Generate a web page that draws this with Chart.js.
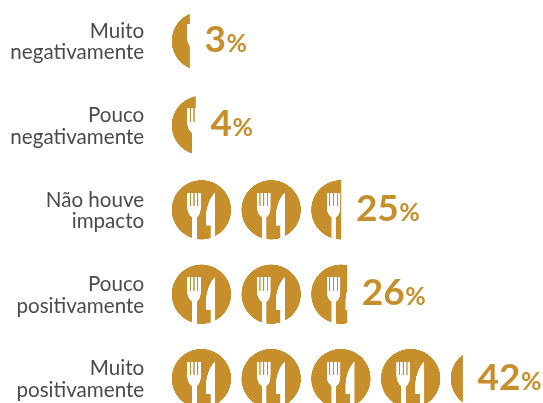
<!DOCTYPE html>
<html><head><meta charset="utf-8">
<style>html,body{margin:0;padding:0;background:#fff;overflow:hidden}canvas{display:block}</style>
<script src="https://cdn.jsdelivr.net/npm/chart.js@4/dist/chart.umd.js"></script>
</head><body><canvas id="c" width="543" height="403"></canvas>
<script>
const categories = [["Muito","negativamente"],["Pouco","negativamente"],["Não houve","impacto"],["Pouco","positivamente"],["Muito","positivamente"]];
const values = [3,4,25,26,42];

const GOLD='#c78f2c', TEXT='#4a4a4a';
const STEP=69.75, ICON=59.4, SS=4, TILE_H=68;

// Pictogram value axis: every icon stands for 10 units; the gaps between icons carry no value.
class IconScale extends Chart.LinearScale {
  static id='icon';
  static defaults={};
  getPixelForValue(v){
    const n=Math.floor(v/10), f=v/10-n;
    return this.left+n*STEP+f*ICON;
  }
}
Chart.register(IconScale);

function makeTile(){
  const t=document.createElement('canvas');
  t.width=Math.round(STEP*SS); t.height=TILE_H*SS;
  const g=t.getContext('2d'); g.scale(SS,SS);
  const cx=ICON/2, cy=TILE_H/2;
  g.fillStyle=GOLD; g.beginPath(); g.arc(cx,cy,ICON/2,0,Math.PI*2); g.fill();
  g.save();
  g.beginPath(); g.arc(cx,cy,ICON/2+0.5,0,Math.PI*2); g.clip();
  g.fillStyle='#fff';
  const ox=171.7, oy=210-cy;
  const X=x=>x-ox, Y=y=>y-oy;
  // fork: head with four tines
  g.beginPath();
  g.moveTo(X(187.2),Y(193)); g.lineTo(X(187.2),Y(207));
  g.bezierCurveTo(X(187.2),Y(213),X(190),Y(216),X(192),Y(217.5));
  g.lineTo(X(192),Y(241)); g.lineTo(X(196.7),Y(241)); g.lineTo(X(196.7),Y(217.5));
  g.bezierCurveTo(X(199),Y(216),X(200.8),Y(213),X(200.8),Y(207));
  g.lineTo(X(200.8),Y(193));
  g.lineTo(X(198.3),Y(193)); g.lineTo(X(198.3),Y(206.5)); g.lineTo(X(197.2),Y(206.5)); g.lineTo(X(197.2),Y(193));
  g.lineTo(X(194.6),Y(193)); g.lineTo(X(194.6),Y(206.5)); g.lineTo(X(193.4),Y(206.5)); g.lineTo(X(193.4),Y(193));
  g.lineTo(X(190.8),Y(193)); g.lineTo(X(190.8),Y(206.5)); g.lineTo(X(189.7),Y(206.5)); g.lineTo(X(189.7),Y(193));
  g.closePath(); g.fill();
  // knife
  g.beginPath();
  g.moveTo(X(215),Y(193));
  g.bezierCurveTo(X(210),Y(197),X(206),Y(208),X(206),Y(217));
  g.lineTo(X(206),Y(225.7)); g.lineTo(X(210.6),Y(225.7));
  g.lineTo(X(210.6),Y(241)); g.lineTo(X(215),Y(241));
  g.closePath(); g.fill();
  g.restore();
  return t;
}
const tile=makeTile();

function iconFill(ctx){
  if(ctx.dataIndex===undefined) return GOLD;
  const c=ctx.chart, a=c.scales.x, b=c.scales.y;
  const p=c.ctx.createPattern(tile,'repeat');
  p.setTransform(new DOMMatrix().translate(a.left,b.getPixelForValue(ctx.dataIndex)-TILE_H/2).scale(1/SS));
  return p;
}

const valueLabels={
  id:'valueLabels',
  afterDatasetsDraw(chart){
    const g=chart.ctx, els=chart.getDatasetMeta(0).data;
    g.save(); g.fillStyle=GOLD; g.textBaseline='alphabetic'; g.textAlign='left';
    els.forEach((el,i)=>{
      const x=el.x+15, y=el.y+11;
      const s=String(values[i]);
      g.font='bold 37px Lato';
      g.fillText(s,x,y);
      const w=g.measureText(s).width;
      g.font='bold 25px Lato';
      g.fillText('%',x+w+0.5,y);
    });
    g.restore();
  }
};

new Chart(document.getElementById('c'),{
  type:'bar',
  plugins:[valueLabels],
  data:{labels:categories,datasets:[{data:values,backgroundColor:iconFill,borderWidth:0,barThickness:62,clip:false}]},
  options:{
    indexAxis:'y',responsive:false,animation:false,events:[],
    layout:{padding:{top:41,bottom:24.4,left:0,right:0}},
    plugins:{legend:{display:false},tooltip:{enabled:false},title:{display:false}},
    scales:{
      x:{type:'icon',min:0,max:55,display:false},
      y:{type:'category',offset:false,
        grid:{display:false,drawTicks:false},border:{display:false},
        afterFit(s){s.width=171.7;s.paddingTop=0;s.paddingBottom=0;},
        ticks:{autoSkip:false,padding:27.5,labelOffset:1,color:TEXT,font:{family:'Lato',size:20.6,lineHeight:1.05},maxRotation:0,minRotation:0}
      }
    }
  }
});
</script></body></html>
